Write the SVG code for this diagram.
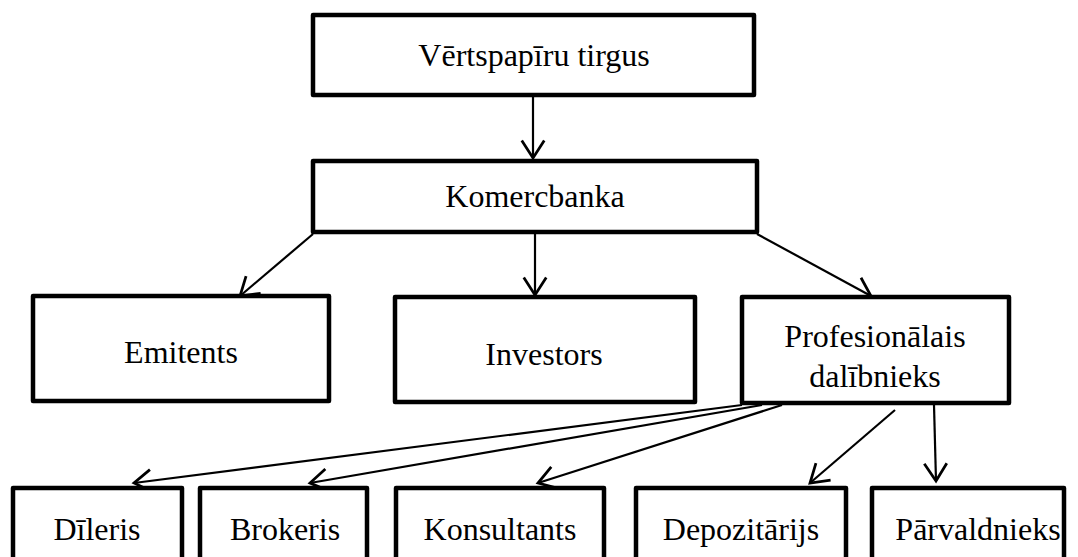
<svg xmlns="http://www.w3.org/2000/svg" width="1078" height="557" viewBox="0 0 1078 557">
<style>
.box{fill:#fff;stroke:#000;stroke-width:4.5;stroke-linejoin:round}
.lbl{font-size:32px;fill:#000;text-anchor:middle}
.con{stroke:#000;stroke-width:2.2;fill:none}
</style>
<defs>
<marker id="arr" markerUnits="userSpaceOnUse" markerWidth="30" markerHeight="30" refX="0" refY="0" viewBox="-16 -12 20 24" orient="auto" overflow="visible">
<path d="M-14,-9 L0,0 L-14,9" fill="none" stroke="#000" stroke-width="2.2"/>
</marker>
</defs>
<rect width="1078" height="557" fill="#fff"/>
<g id="connectors">
<line class="con" x1="533" y1="97" x2="533" y2="158" marker-end="url(#arr)"/>
<line class="con" x1="313" y1="234" x2="240" y2="296" marker-end="url(#arr)"/>
<line class="con" x1="535" y1="234" x2="535" y2="295" marker-end="url(#arr)"/>
<line class="con" x1="757" y1="234" x2="871" y2="296" marker-end="url(#arr)"/>
<line class="con" x1="742" y1="405" x2="134" y2="483" marker-end="url(#arr)"/>
<line class="con" x1="762" y1="405" x2="310" y2="483" marker-end="url(#arr)"/>
<line class="con" x1="782" y1="405" x2="538" y2="483" marker-end="url(#arr)"/>
<line class="con" x1="895" y1="410" x2="810" y2="483" marker-end="url(#arr)"/>
<line class="con" x1="934" y1="405" x2="936" y2="481" marker-end="url(#arr)"/>
</g>
<g id="n-tirgus">
<rect class="box" x="313" y="15" width="441" height="80"/>
<text class="lbl" font-family="Liberation Serif, Times New Roman, serif" x="534" y="66">Vērtspapīru tirgus</text>
</g>
<g id="n-komercbanka">
<rect class="box" x="313" y="161" width="444" height="71"/>
<text class="lbl" font-family="Liberation Serif, Times New Roman, serif" x="535" y="207">Komercbanka</text>
</g>
<g id="n-emitents">
<rect class="box" x="33" y="296" width="296" height="105"/>
<text class="lbl" font-family="Liberation Serif, Times New Roman, serif" x="181" y="363">Emitents</text>
</g>
<g id="n-investors">
<rect class="box" x="395" y="297" width="300" height="105"/>
<text class="lbl" font-family="Liberation Serif, Times New Roman, serif" x="544" y="365">Investors</text>
</g>
<g id="n-profesionalais">
<rect class="box" x="742" y="297" width="267" height="106"/>
<text class="lbl" font-family="Liberation Serif, Times New Roman, serif" x="875" y="347">Profesionālais</text>
<text class="lbl" font-family="Liberation Serif, Times New Roman, serif" x="875" y="387">dalībnieks</text>
</g>
<g id="n-dileris">
<rect class="box" x="13" y="488" width="169" height="100"/>
<text class="lbl" font-family="Liberation Serif, Times New Roman, serif" x="97" y="540">Dīleris</text>
</g>
<g id="n-brokeris">
<rect class="box" x="200" y="488" width="167" height="100"/>
<text class="lbl" font-family="Liberation Serif, Times New Roman, serif" x="285" y="540">Brokeris</text>
</g>
<g id="n-konsultants">
<rect class="box" x="396" y="488" width="208" height="100"/>
<text class="lbl" font-family="Liberation Serif, Times New Roman, serif" x="500" y="540">Konsultants</text>
</g>
<g id="n-depozitarijs">
<rect class="box" x="636" y="488" width="210" height="100"/>
<text class="lbl" font-family="Liberation Serif, Times New Roman, serif" x="741" y="540">Depozitārijs</text>
</g>
<g id="n-parvaldnieks">
<rect class="box" x="872" y="488" width="192" height="100"/>
<text class="lbl" font-family="Liberation Serif, Times New Roman, serif" x="978" y="540">Pārvaldnieks</text>
</g>
</svg>
